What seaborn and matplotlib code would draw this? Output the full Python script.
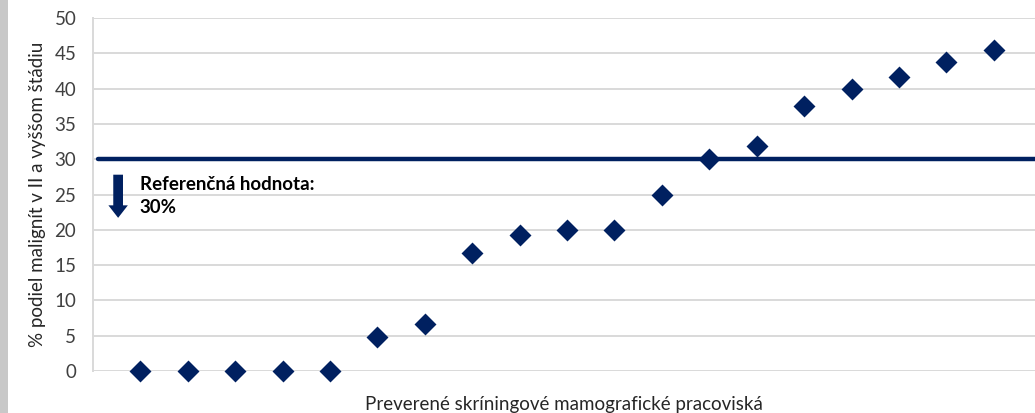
import numpy as np
import pandas as pd
import seaborn as sns
from matplotlib import pyplot as plt
from matplotlib.patches import Rectangle

# values
pracoviska = list(range(1, 20))
podiel = [0, 0, 0, 0, 0, 4.8, 6.7, 16.7, 19.2, 20, 20, 25, 30, 31.8, 37.5, 40, 41.7, 43.75, 45.5]
referencna_hodnota = 30
y_ticks = [0, 5, 10, 15, 20, 25, 30, 35, 40, 45, 50]

NAVY = '#002060'
GRID = '#d9d9d9'


def main():
    df = pd.DataFrame({'pracovisko': pracoviska, 'podiel': podiel})

    sns.set_style('white')
    plt.rcParams['font.family'] = ['Lato', 'DejaVu Sans']

    fig = plt.figure(figsize=(10.35, 4.13), dpi=100)
    # grey strip on the left edge (frame of the original picture)
    fig.patches.append(Rectangle((0, 0), 8 / 1035, 1, transform=fig.transFigure,
                                 facecolor='#c8c8c8', edgecolor='none', zorder=0))

    ax = fig.add_axes([93 / 1035, 42 / 413, 1 - 93 / 1035, 353 / 413])

    for t in y_ticks:
        ax.axhline(t, color=GRID, lw=1.4, zorder=1)
    ax.axhline(referencna_hodnota, xmin=0.005, xmax=1, color=NAVY, lw=3.2, zorder=2)

    sns.scatterplot(data=df, x='pracovisko', y='podiel', marker='D', s=125,
                    color=NAVY, edgecolor=NAVY, linewidth=0, ax=ax, zorder=3,
                    clip_on=False)

    ax.annotate('', xy=(0.53, 21.3), xytext=(0.53, 28.2),
                arrowprops=dict(arrowstyle='simple,head_width=1.4,head_length=0.9,tail_width=0.7',
                                color=NAVY, lw=0))
    ax.text(0.99, 27.6, 'Referenčná hodnota:\n30%', fontsize=13.5, fontweight='bold',
            va='top', ha='left', linespacing=1.4, color='black')

    ax.set_xlim(0, 19.87)
    ax.set_ylim(0, 50)
    ax.set_yticks(y_ticks)
    ax.set_xticks([])
    ax.tick_params(axis='y', length=0, pad=12, labelsize=13.5, labelcolor='#404040')
    for s in ['top', 'right', 'bottom']:
        ax.spines[s].set_visible(False)
    ax.spines['left'].set_color(GRID)
    ax.spines['left'].set_linewidth(1.4)

    ax.set_xlabel('Preverené skríningové mamografické pracoviská', fontsize=13.5,
                  color='#262626', labelpad=18)
    ax.set_ylabel('% podiel malignít v II a vyššom štádiu', fontsize=13.5,
                  color='#262626', labelpad=6)

    fig.savefig('out.png', dpi=100)


if __name__ == '__main__':
    main()
